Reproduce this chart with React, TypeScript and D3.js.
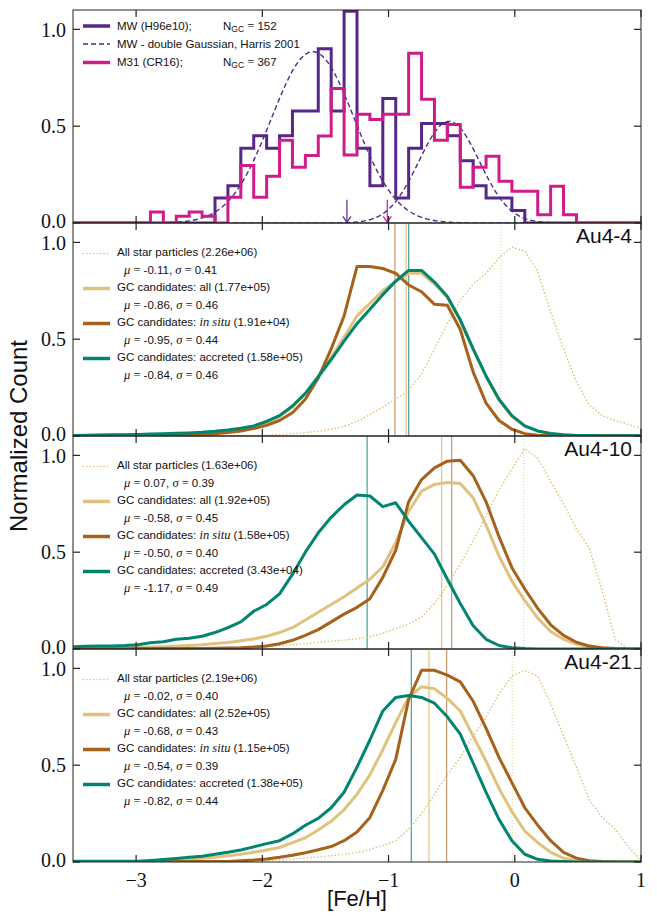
import React from 'react';
import * as d3 from 'd3';

const W = 657, H = 917;
const LEFT = 73, RIGHT = 641, TOP = 10, PANEL_H = 213;
const SANS = "'Liberation Sans', Arial, sans-serif";
const SERIF = "'Liberation Serif', 'Times New Roman', serif";

const xTicks = [-3, -2, -1, 0, 1];
const yTicks = [0, 0.5, 1.0];
const xTickLabels = ['\u22123', '\u22122', '\u22121', '0', '1'];
const yTickLabels = ['0.0', '0.5', '1.0'];
const X_MIN = -3.5, X_MAX = 1.0, N_EDGES = 45;

// Histogram heights (normalized) per bin, 44 bins over [-3.5, 1]
const mwHist = [0,0,0,0,0,0,0,0,0,0,0,
  0.129,0.193,0.386,0.450,0.386,0.450,0.579,0.579,0.900,0.579,1.093,0.386,0.193,0.643,
  0.129,0.386,0.514,0.514,0.450,0.322,0.193,0.129,0.129,0.064,
  0,0,0,0,0,0,0,0,0];
const m31Hist = [0,0,0,0,0,0,
  0.057,0,0.035,0.057,0.035,0,0.133,0.297,0.133,0.242,0.427,0.288,0.349,0.449,0.694,0.351,
  0.561,0.535,0.561,0.561,0.876,0.639,0.427,0.509,0.185,0.288,0.345,0.216,0.164,0.164,
  0.043,0.19,0.043,0,0,0,0,0];
const harrisGauss = [
  { mu: -1.60, sigma: 0.33, amp: 0.885 },
  { mu: -0.52, sigma: 0.24, amp: 0.525 },
];
const mwArrowX = -1.33;
const m31ArrowX = -1.01;
const arrowTop = 0.12;

// Simulation curves, values at the 45 bin edges
const au4_4 = {
  stars: [0.001,0.001,0.001,0.001,0.001,0.002,0.002,0.002,0.002,0.002,0.003,0.003,0.003,0.004,0.004,
    0.005,0.008,0.012,0.018,0.025,0.035,0.05,0.075,0.11,0.15,0.19,0.235,0.32,0.45,0.58,0.70,0.785,0.84,0.92,0.975,
    0.955,0.85,0.64,0.45,0.28,0.16,0.105,0.08,0.06,0.04],
  all: [0.003,0.003,0.004,0.004,0.005,0.006,0.007,0.008,0.01,0.012,0.015,0.019,0.025,0.034,0.046,
    0.068,0.1,0.15,0.22,0.31,0.405,0.51,0.62,0.685,0.75,0.80,0.84,0.84,0.785,0.715,0.595,0.445,0.305,0.185,0.1,
    0.05,0.025,0.012,0.006,0.003,0.002,0.001,0.001,0.001,0.001],
  insitu: [0.001,0.001,0.001,0.001,0.002,0.002,0.002,0.002,0.003,0.004,0.008,0.012,0.018,0.026,0.038,
    0.055,0.08,0.12,0.19,0.3,0.45,0.62,0.875,0.875,0.865,0.84,0.78,0.745,0.68,0.675,0.55,0.33,0.17,0.08,0.035,
    0.012,0.004,0.001,0,0,0,0,0,0,0],
  accreted: [0.003,0.004,0.005,0.006,0.007,0.008,0.01,0.012,0.014,0.016,0.019,0.024,0.031,0.04,0.052,
    0.075,0.105,0.155,0.22,0.305,0.395,0.49,0.58,0.655,0.73,0.80,0.855,0.855,0.795,0.72,0.60,0.45,0.31,0.19,0.105,
    0.052,0.026,0.013,0.006,0.003,0.002,0.001,0.001,0.001,0.001],
};
const au4_10 = {
  stars: [0.001,0.001,0.001,0.001,0.001,0.001,0.002,0.002,0.002,0.002,0.002,0.003,0.004,0.005,0.008,
    0.012,0.017,0.022,0.028,0.034,0.04,0.046,0.053,0.063,0.082,0.105,0.128,0.165,0.235,0.33,0.44,0.56,0.69,0.82,0.93,
    1.035,0.985,0.865,0.75,0.62,0.52,0.30,0.05,0,0],
  all: [0.003,0.004,0.005,0.006,0.007,0.009,0.01,0.012,0.015,0.018,0.022,0.028,0.034,0.043,0.052,
    0.066,0.085,0.11,0.15,0.19,0.23,0.27,0.315,0.36,0.425,0.55,0.71,0.815,0.85,0.86,0.855,0.78,0.64,0.48,0.35,
    0.25,0.16,0.09,0.05,0.025,0.01,0.004,0.001,0,0],
  insitu: [0.001,0.001,0.001,0.001,0.001,0.002,0.002,0.002,0.002,0.003,0.003,0.004,0.005,0.006,0.01,
    0.016,0.027,0.045,0.07,0.1,0.14,0.18,0.215,0.26,0.37,0.51,0.76,0.875,0.935,0.97,0.975,0.895,0.76,0.58,0.42,
    0.31,0.21,0.125,0.07,0.035,0.015,0.006,0.002,0,0],
  accreted: [0.012,0.014,0.015,0.016,0.018,0.022,0.032,0.037,0.05,0.056,0.066,0.085,0.11,0.14,0.195,
    0.23,0.285,0.385,0.50,0.60,0.68,0.745,0.795,0.79,0.735,0.755,0.66,0.575,0.49,0.36,0.235,0.12,0.05,0.018,0.006,
    0.002,0,0,0,0,0,0,0,0,0],
};
const au4_21 = {
  stars: [0.001,0.001,0.001,0.001,0.001,0.001,0.002,0.002,0.002,0.002,0.002,0.002,0.002,0.003,0.005,
    0.008,0.011,0.015,0.02,0.026,0.033,0.04,0.048,0.065,0.085,0.11,0.17,0.25,0.35,0.45,0.54,0.65,0.75,0.87,0.96,
    0.99,0.96,0.82,0.65,0.49,0.32,0.23,0.17,0.08,0.005],
  all: [0.002,0.002,0.002,0.002,0.002,0.002,0.004,0.007,0.01,0.014,0.019,0.025,0.032,0.04,0.05,
    0.062,0.075,0.1,0.125,0.165,0.21,0.27,0.35,0.45,0.58,0.72,0.85,0.905,0.895,0.845,0.78,0.65,0.52,0.38,0.26,
    0.16,0.1,0.05,0.02,0.008,0.002,0,0,0,0],
  insitu: [0.002,0.002,0.002,0.002,0.002,0.002,0.003,0.003,0.003,0.003,0.003,0.003,0.003,0.006,0.01,
    0.016,0.024,0.035,0.048,0.063,0.08,0.11,0.155,0.23,0.37,0.53,0.84,0.99,0.99,0.965,0.93,0.83,0.69,0.54,0.41,
    0.28,0.19,0.11,0.05,0.02,0.006,0.002,0,0,0],
  accreted: [0.004,0.004,0.004,0.004,0.004,0.004,0.008,0.013,0.018,0.024,0.03,0.04,0.05,0.062,0.078,
    0.095,0.11,0.145,0.19,0.225,0.28,0.36,0.49,0.63,0.78,0.85,0.86,0.85,0.82,0.75,0.66,0.51,0.36,0.22,0.11,
    0.04,0.014,0.005,0.002,0,0,0,0,0,0],
};

const simPanels = [
  { name: 'Au4-4', curves: au4_4,
    counts: ['2.26e+06', '1.77e+05', '1.91e+04', '1.58e+05'],
    mu: [-0.11, -0.86, -0.95, -0.84], muText: ['-0.11', '-0.86', '-0.95', '-0.84'], sigma: ['0.41', '0.46', '0.44', '0.46'] },
  { name: 'Au4-10', curves: au4_10,
    counts: ['1.63e+06', '1.92e+05', '1.58e+05', '3.43e+04'],
    mu: [0.07, -0.58, -0.50, -1.17], muText: ['0.07', '-0.58', '-0.50', '-1.17'], sigma: ['0.39', '0.45', '0.40', '0.49'] },
  { name: 'Au4-21', curves: au4_21,
    counts: ['2.19e+06', '2.52e+05', '1.15e+05', '1.38e+05'],
    mu: [-0.02, -0.68, -0.54, -0.82], muText: ['-0.02', '-0.68', '-0.54', '-0.82'], sigma: ['0.40', '0.43', '0.39', '0.44'] },
];

const C_MW = '#542788';
const C_M31 = '#d01c8b';
const C_TAN = '#dfc27d';
const C_BROWN = '#a6611a';
const C_TEAL = '#018571';

const seriesStyle = [
  { key: 'stars', color: C_TAN, width: 1.6, dash: '0.1 3.4', cap: 'round' },
  { key: 'all', color: C_TAN, width: 3, dash: null, cap: 'butt' },
  { key: 'insitu', color: C_BROWN, width: 3, dash: null, cap: 'butt' },
  { key: 'accreted', color: C_TEAL, width: 3, dash: null, cap: 'butt' },
];
const meanLineStyle = [
  { color: C_TAN, width: 1, dash: '1 2', opacity: 0.8 },
  { color: C_TAN, width: 1.3, dash: null, opacity: 0.9 },
  { color: C_BROWN, width: 1.3, dash: null, opacity: 0.6 },
  { color: C_TEAL, width: 1, dash: null, opacity: 0.9 },
];

const LEG_FS = 11.5;
const MATH_FS = 12.5;
const TICK_FS = 20;
// small vertical nudges so stacked tick labels at panel joins do not collide
const yLabelShift = [5.3, 6.5, 7.7];

const x = d3.scaleLinear().domain([X_MIN, X_MAX]).range([LEFT, RIGHT]);
const edges = d3.range(N_EDGES).map(k => X_MIN + (k * (X_MAX - X_MIN)) / (N_EDGES - 1));
const panelTop = (i: number) => TOP + i * PANEL_H;
const yScaleFor = (i: number) => d3.scaleLinear().domain([0, 1.1]).range([panelTop(i) + PANEL_H, panelTop(i)]);

function Axes({ i, showX }: { i: number; showX: boolean }) {
  const y = yScaleFor(i);
  const top = panelTop(i), bot = top + PANEL_H;
  const TL = 7;
  return (
    <g>
      <rect x={LEFT} y={top} width={RIGHT - LEFT} height={PANEL_H} fill="none" stroke="#222" strokeWidth={1} />
      {xTicks.map(t => (
        <g key={'xt' + t}>
          <line x1={x(t)} x2={x(t)} y1={bot} y2={bot - TL} stroke="#222" strokeWidth={1.2} />
          <line x1={x(t)} x2={x(t)} y1={top} y2={top + TL} stroke="#222" strokeWidth={1.2} />
        </g>
      ))}
      {yTicks.map((t, j) => (
        <g key={'yt' + t}>
          <line x1={LEFT} x2={LEFT + TL} y1={y(t)} y2={y(t)} stroke="#222" strokeWidth={1.2} />
          <line x1={RIGHT} x2={RIGHT - TL} y1={y(t)} y2={y(t)} stroke="#222" strokeWidth={1.2} />
          <text x={LEFT - 7} y={y(t) + yLabelShift[j]} textAnchor="end" fontFamily={SERIF} fontSize={TICK_FS} fill="#111">{yTickLabels[j]}</text>
        </g>
      ))}
      {showX && xTicks.map((t, j) => (
        <text key={'xl' + t} x={x(t)} y={bot + 25} textAnchor="middle" fontFamily={SERIF} fontSize={TICK_FS} fill="#111">{xTickLabels[j]}</text>
      ))}
    </g>
  );
}

function stepPath(hist: number[], y: d3.ScaleLinear<number, number>) {
  let p = `M${x(edges[0])},${y(0)}`;
  hist.forEach((h, i) => {
    p += `L${x(edges[i])},${y(h)}L${x(edges[i + 1])},${y(h)}`;
  });
  p += `L${x(edges[edges.length - 1])},${y(0)}`;
  return p;
}

function NGC({ xPos, yPos, n }: { xPos: number; yPos: number; n: string }) {
  return (
    <text x={xPos} y={yPos}>N<tspan fontSize={8.5} dy={2}>GC</tspan><tspan dy={-2} fontFamily={SERIF} fontSize={MATH_FS}> = </tspan>{n}</text>
  );
}

function ObsPanel() {
  const y = yScaleFor(0);
  const gx = d3.range(X_MIN, X_MAX + 0.0001, 0.01);
  const top = panelTop(0);
  const legendRows = [top + 19.5, top + 37.5, top + 56];
  const arrow = (xv: number, color: string) => {
    const xp = x(xv), y0 = y(arrowTop), y1 = y(0.003);
    return (
      <g stroke={color} strokeWidth={1.2} fill="none">
        <line x1={xp} x2={xp} y1={y0} y2={y1} />
        <path d={`M${xp - 4},${y1 - 6}L${xp},${y1}L${xp + 4},${y1 - 6}`} />
      </g>
    );
  };
  return (
    <g>
      <defs>
        <clipPath id="clip0"><rect x={LEFT} y={top} width={RIGHT - LEFT} height={PANEL_H} /></clipPath>
      </defs>
      <g clipPath="url(#clip0)">
        <path d={stepPath(mwHist, y)} fill="none" stroke={C_MW} strokeWidth={3} strokeLinejoin="miter" />
        {harrisGauss.map((g, j) => {
          const line = d3.line<number>().x(v => x(v)).y(v => y(g.amp * Math.exp(-((v - g.mu) ** 2) / (2 * g.sigma ** 2))));
          return <path key={j} d={line(gx) || ''} fill="none" stroke={C_MW} strokeWidth={1.4} strokeDasharray="5 3" />;
        })}
        <path d={stepPath(m31Hist, y)} fill="none" stroke={C_M31} strokeWidth={3} strokeLinejoin="miter" />
        {arrow(mwArrowX, C_MW)}
        {arrow(m31ArrowX, C_M31)}
      </g>
      <g fontFamily={SANS} fontSize={LEG_FS} fill="#111">
        <line x1={83} x2={110} y1={legendRows[0] - 3.5} y2={legendRows[0] - 3.5} stroke={C_MW} strokeWidth={3.5} />
        <text x={117} y={legendRows[0]}>MW (H96e10);</text>
        <NGC xPos={223} yPos={legendRows[0]} n="152" />
        <line x1={83} x2={110} y1={legendRows[1] - 3.5} y2={legendRows[1] - 3.5} stroke={C_MW} strokeWidth={1.4} strokeDasharray="5 3" />
        <text x={117} y={legendRows[1]}>MW - double Gaussian, Harris 2001</text>
        <line x1={83} x2={110} y1={legendRows[2] - 3.5} y2={legendRows[2] - 3.5} stroke={C_M31} strokeWidth={3.5} />
        <text x={117} y={legendRows[2]}>M31 (CR16);</text>
        <NGC xPos={223} yPos={legendRows[2]} n="367" />
      </g>
      <Axes i={0} showX={false} />
    </g>
  );
}

function SimPanel({ i, p }: { i: number; p: typeof simPanels[number] }) {
  const y = yScaleFor(i);
  const top = panelTop(i);
  const line = d3.line<number>().x((_, k) => x(edges[k])).y(v => y(v));
  const labels = ['All star particles', 'GC candidates: all', 'GC candidates: ', 'GC candidates: accreted'];
  const rowY = (r: number) => top + 33 + 17.5 * r;
  return (
    <g>
      <defs>
        <clipPath id={'clip' + i}><rect x={LEFT} y={top} width={RIGHT - LEFT} height={PANEL_H} /></clipPath>
      </defs>
      <g clipPath={`url(#clip${i})`}>
        {p.mu.map((m, j) => (
          <line key={'m' + j} x1={x(m)} x2={x(m)} y1={top} y2={top + PANEL_H}
            stroke={meanLineStyle[j].color} strokeWidth={meanLineStyle[j].width}
            strokeDasharray={meanLineStyle[j].dash || undefined} opacity={meanLineStyle[j].opacity} />
        ))}
        {seriesStyle.map(s => (
          <path key={s.key} d={line((p.curves as any)[s.key]) || ''} fill="none" stroke={s.color}
            strokeWidth={s.width} strokeDasharray={s.dash || undefined} strokeLinecap={s.cap as any} strokeLinejoin="round" />
        ))}
      </g>
      <g fontFamily={SANS} fontSize={LEG_FS} fill="#111">
        {seriesStyle.map((s, j) => (
          <g key={'lg' + j}>
            <line x1={83} x2={110} y1={rowY(2 * j) - 2.5} y2={rowY(2 * j) - 2.5} stroke={s.color}
              strokeWidth={s.key === 'stars' ? 1.6 : 3.5} strokeDasharray={s.dash || undefined} strokeLinecap={s.cap as any} />
            <text x={117} y={rowY(2 * j)}>
              {labels[j]}
              {j === 2 && <tspan fontFamily={SERIF} fontStyle="italic" fontSize={MATH_FS}>in situ</tspan>}
              {' (' + p.counts[j] + ')'}
            </text>
            <text x={124} y={rowY(2 * j + 1)}>
              <tspan fontFamily={SERIF} fontStyle="italic" fontSize={MATH_FS}>μ</tspan>
              <tspan fontFamily={SERIF} fontSize={MATH_FS}> = </tspan>
              <tspan>{p.muText[j] + ', '}</tspan>
              <tspan fontFamily={SERIF} fontStyle="italic" fontSize={MATH_FS}>σ</tspan>
              <tspan fontFamily={SERIF} fontSize={MATH_FS}> = </tspan>
              <tspan>{p.sigma[j]}</tspan>
            </text>
          </g>
        ))}
      </g>
      <text x={632} y={top + 20} textAnchor="end" fontFamily={SANS} fontSize={21} fill="#111">{p.name}</text>
      <Axes i={i} showX={i === 3} />
    </g>
  );
}

export default function App() {
  return (
    <svg width={W} height={H} viewBox={`0 0 ${W} ${H}`} style={{ display: 'block', position: 'absolute', left: 0, top: 0, background: '#fff' }}>
      <rect x={0} y={0} width={W} height={H} fill="#fff" />
      <ObsPanel />
      {simPanels.map((p, j) => <SimPanel key={p.name} i={j + 1} p={p} />)}
      <text transform={`translate(27,${TOP + 2 * PANEL_H}) rotate(-90)`} textAnchor="middle" fontFamily={SANS} fontSize={24} fill="#111">Normalized Count</text>
      <text x={(LEFT + RIGHT) / 2} y={906} textAnchor="middle" fontFamily={SANS} fontSize={22} fill="#111">[Fe/H]</text>
    </svg>
  );
}
